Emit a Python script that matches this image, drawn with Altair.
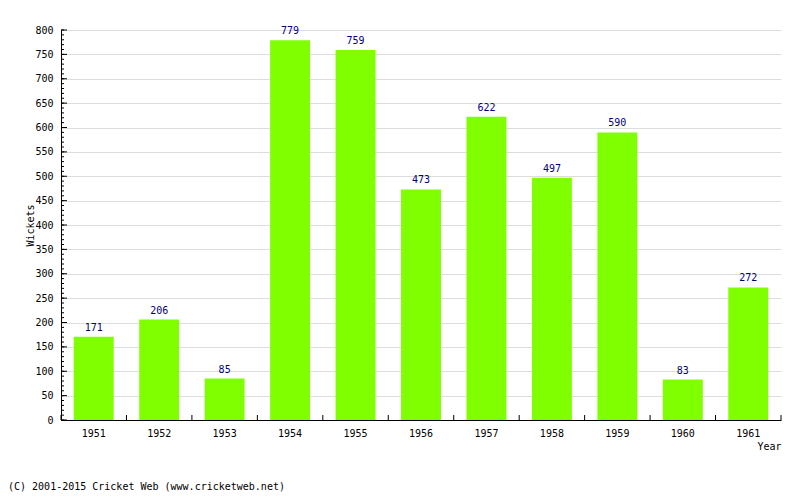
import altair as alt
import pandas as pd

years = ["1951", "1952", "1953", "1954", "1955", "1956", "1957", "1958", "1959", "1960", "1961"]
wickets = [171, 206, 85, 779, 759, 473, 622, 497, 590, 83, 272]
y_major = list(range(0, 801, 50))
y_minor = list(range(0, 801, 10))
footer = ["(C) 2001-2015 Cricket Web (www.cricketweb.net)"]

FONT = "DejaVu Sans Mono"
W, H = 720, 390
PAD_IN = 0.39
GAP_HALF = PAD_IN * (W / len(years)) / 2

df = pd.DataFrame({"Year": years, "Wickets": wickets})
df_major = pd.DataFrame({"Wickets": y_major})
df_minor = pd.DataFrame({"Wickets": y_minor})
df_xt = pd.DataFrame({"Year": years})
df_last = pd.DataFrame({"Year": [years[-1]]})
df_foot = pd.DataFrame({"t": footer})

xscale = alt.Scale(domain=years, paddingInner=PAD_IN, paddingOuter=PAD_IN / 2)
yscale = alt.Scale(domain=[0, 800], nice=False)

x_axis = alt.Axis(
    title="Year", labelAngle=0, ticks=False, grid=False, domainColor="black",
    labelFont=FONT, labelFontSize=10, labelColor="black", labelPadding=8,
    titleFont=FONT, titleFontSize=10, titleFontWeight="normal", titleColor="black",
    titleAnchor="end", titleAlign="right", titleX=W, titleY=29, titleBaseline="alphabetic",
)
y_axis = alt.Axis(
    title="Wickets", values=y_major, ticks=False, grid=True, gridColor="#dddddd",
    labelOverlap=False, labelFlush=False,
    domainColor="black", labelFont=FONT, labelFontSize=10, labelColor="black", labelPadding=8,
    titleFont=FONT, titleFontSize=10, titleFontWeight="normal", titleColor="black",
    titleAngle=270, titleX=-28, titleY=H / 2, titleAlign="center", titleBaseline="alphabetic",
)

bars = alt.Chart(df).mark_bar(color="#7FFF00").encode(
    x=alt.X("Year:N", scale=xscale, axis=x_axis),
    y=alt.Y("Wickets:Q", scale=yscale, axis=y_axis),
)

labels = alt.Chart(df).mark_text(
    color="#000080", font=FONT, fontSize=10, baseline="alphabetic", dy=-6
).encode(
    x=alt.X("Year:N", axis=x_axis),
    y=alt.Y("Wickets:Q", axis=y_axis),
    text=alt.Text("Wickets:Q"),
)

major_ticks = alt.Chart(df_major).mark_rule(color="black", strokeWidth=1).encode(
    y=alt.Y("Wickets:Q", axis=y_axis), x=alt.value(0), x2=alt.value(6)
)
minor_ticks = alt.Chart(df_minor).mark_rule(color="black", strokeWidth=1).encode(
    y=alt.Y("Wickets:Q", axis=y_axis), x=alt.value(0), x2=alt.value(3)
)
x_ticks = alt.Chart(df_xt).mark_rule(color="black", strokeWidth=1, xOffset=-GAP_HALF).encode(
    x=alt.X("Year:N", bandPosition=0, axis=x_axis), y=alt.value(H), y2=alt.value(H - 5)
)
x_last = alt.Chart(df_last).mark_rule(color="black", strokeWidth=1, xOffset=GAP_HALF).encode(
    x=alt.X("Year:N", bandPosition=1, axis=x_axis), y=alt.value(H), y2=alt.value(H - 5)
)
foot = alt.Chart(df_foot).mark_text(
    align="left", baseline="alphabetic", font=FONT, fontSize=10, color="black"
).encode(x=alt.value(-53), y=alt.value(460), text="t:N")

chart = alt.layer(bars, labels, minor_ticks, major_ticks, x_ticks, x_last, foot).properties(
    width=W, height=H,
    autosize=alt.AutoSizeParams(type="none"),
    padding={"left": 53, "top": 22, "right": 10, "bottom": 72},
    background="white",
).configure_view(stroke=None)

chart.save("out.html", embed_options={"renderer": "svg", "actions": False})
